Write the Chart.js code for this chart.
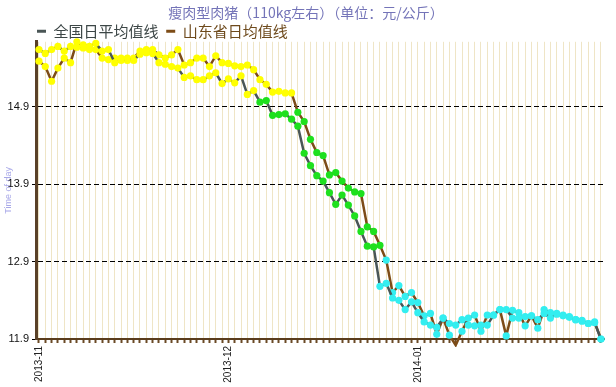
<!DOCTYPE html>
<html>
<head>
<meta charset="utf-8">
<script src="https://cdn.jsdelivr.net/npm/chart.js@4"></script>
<style>
  html, body { margin: 0; padding: 0; background: #fff; }
  #wrap { width: 616px; height: 387px; position: relative; }
</style>
</head>
<body>
<div id="wrap"><canvas id="chart"></canvas></div>
<script>
// chart text
const titleText = '瘦肉型肉猪（110kg左右）（单位：元/公斤）';
const seriesNames = ['全国日平均值线  ', '山东省日均值线'];

// x axis: one category per trading day, labels only at month starts
const monthTickIndex = [0, 30, 60];
const monthTickLabels = ['2013-11', '2013-12', '2014-01'];

// y axis ticks
const yTicks = [11.9, 12.9, 13.9, 14.9];

// daily prices (yuan/kg)
const nationalPrice = [
  15.64, 15.59, 15.64, 15.68, 15.62, 15.68, 15.67, 15.70, 15.68, 15.72,
  15.62, 15.64, 15.47, 15.50, 15.53, 15.50, 15.58, 15.60, 15.59, 15.47,
  15.45, 15.42, 15.40, 15.28, 15.30, 15.25, 15.25, 15.30, 15.34, 15.20,
  15.26, 15.21, 15.30, 15.06, 15.11, 14.96, 14.98, 14.79, 14.80, 14.81,
  14.74, 14.65, 14.30, 14.14, 14.01, 13.94, 13.79, 13.64, 13.76, 13.63,
  13.49, 13.29, 13.10, 13.09, 12.58, 12.62, 12.43, 12.40, 12.28, 12.38,
  12.24, 12.12, 12.08, 12.05, 12.17, 12.10, 12.08, 12.15, 12.08, 12.07,
  12.08, 12.08, 12.21, 12.28, 12.28, 12.17, 12.17, 12.19, 12.20, 12.15,
  12.23, 12.17, 12.22, 12.20, 12.18, 12.15, 12.13, 12.10, 12.11, 11.90
];
const shandongPrice = [
  15.49, 15.42, 15.23, 15.40, 15.53, 15.47, 15.74, 15.66, 15.64, 15.64,
  15.53, 15.51, 15.53, 15.53, 15.50, 15.53, 15.62, 15.64, 15.64, 15.57,
  15.53, 15.57, 15.64, 15.44, 15.47, 15.53, 15.53, 15.42, 15.56, 15.47,
  15.46, 15.43, 15.42, 15.44, 15.38, 15.25, 15.19, 15.09, 15.10, 15.08,
  15.08, 14.83, 14.71, 14.48, 14.31, 14.27, 14.02, 14.05, 13.94, 13.85,
  13.80, 13.78, 13.35, 13.29, 13.11, 12.92, 12.50, 12.59, 12.45, 12.50,
  12.37, 12.20, 12.23, 11.96, 12.17, 11.95, 11.82, 12.00, 12.17, 12.21,
  12.00, 12.21, 12.21, 12.28, 11.94, 12.27, 12.24, 12.07, 12.20, 12.04,
  12.28, 12.24, 12.23, 12.21, 12.19, 12.15, 12.14, 12.10, 12.12, 11.90
];

const lineColors = ['#4a5656', '#7d4c17'];
const legendTextColors = ['#3c4646', '#6e4a1c'];

// dots change colour with the price band
function pointColor(ctx) {
  const v = ctx.raw ? ctx.raw.y : null;
  if (v == null || v >= 15) return '#ffff00';
  if (v >= 13) return '#1ee01e';
  return '#33eef0';
}

function toPoints(values) {
  return values.map((v, i) => ({ x: i, y: v }));
}

const ctx = document.getElementById('chart').getContext('2d');

new Chart(ctx, {
  type: 'line',
  data: {
    datasets: [nationalPrice, shandongPrice].map((values, i) => ({
      label: seriesNames[i],
      data: toPoints(values),
      borderColor: lineColors[i],
      borderWidth: 2.5,
      tension: 0,
      fill: false,
      pointRadius: 3.6,
      pointBorderWidth: 0,
      pointBackgroundColor: pointColor,
      pointBorderColor: pointColor,
      pointHoverRadius: 3.6,
      clip: 8
    }))
  },
  options: {
    responsive: true,
    maintainAspectRatio: false,
    animation: false,
    layout: { padding: { left: 0, right: 4, top: 0, bottom: 0 } },
    plugins: {
      title: {
        display: true,
        text: titleText,
        color: '#7474b8',
        font: { family: 'Noto Sans CJK SC', size: 14, weight: 'normal' },
        padding: { top: 4, bottom: 2 }
      },
      legend: {
        display: true,
        position: 'top',
        align: 'start',
        fullSize: false,
        maxHeight: 19,
        labels: {
          usePointStyle: true,
          pointStyleWidth: 9,
          padding: 1,
          font: { family: 'Noto Sans CJK SC', size: 15 },
          generateLabels: chart => chart.data.datasets.map((ds, i) => ({
            text: seriesNames[i],
            fontColor: legendTextColors[i],
            strokeStyle: ds.borderColor,
            fillStyle: ds.borderColor,
            lineWidth: 3,
            lineCap: 'butt',
            pointStyle: 'line',
            hidden: false,
            datasetIndex: i
          }))
        }
      },
      tooltip: { enabled: false }
    },
    scales: {
      x: {
        type: 'linear',
        min: -0.47,
        max: 89.58,
        afterBuildTicks: scale => {
          scale.ticks = nationalPrice.map((_, i) => ({ value: i }));
        },
        afterFit: scale => { scale.height = 48; },
        ticks: {
          autoSkip: false,
          minRotation: 90,
          maxRotation: 90,
          padding: 3,
          color: '#222',
          font: { family: 'Liberation Sans', size: 10 },
          callback: value => {
            const k = monthTickIndex.indexOf(value);
            return k >= 0 ? monthTickLabels[k] : '';
          }
        },
        grid: {
          color: '#efe5c6',
          lineWidth: 1,
          tickColor: '#6b4a26',
          tickLength: 4,
          tickWidth: 2
        },
        border: { color: '#5a3c1c', width: 2 }
      },
      y: {
        min: 11.9,
        max: 15.74,
        afterBuildTicks: scale => {
          scale.ticks = yTicks.map(v => ({ value: v }));
        },
        afterFit: scale => { scale.width = 36; },
        ticks: {
          padding: 3,
          color: '#111',
          font: { family: 'Liberation Sans', size: 11 },
          callback: value => value.toFixed(1)
        },
        grid: {
          color: c => (c.tick && c.tick.value === yTicks[0]) ? 'rgba(0,0,0,0)' : '#000',
          lineWidth: 1,
          tickColor: '#000',
          tickLength: 4
        },
        border: { color: '#5a4128', width: 3, dash: [5, 3] },
        title: {
          display: true,
          text: 'Time of day',
          color: '#a8a8e8',
          font: { family: 'Liberation Sans', size: 9 },
          padding: { top: 3, bottom: 0 }
        }
      }
    }
  }
});
</script>
</body>
</html>
